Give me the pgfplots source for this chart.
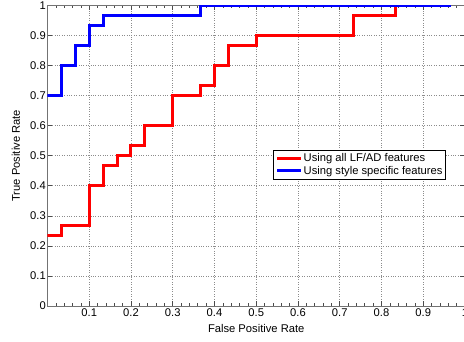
\documentclass[border=0pt]{standalone}
\usepackage{fontspec}
\setmainfont{Liberation Sans}
\usepackage{pgfplots}
\pgfplotsset{compat=1.18}
\begin{document}
\begin{tikzpicture}
\begin{axis}[
  name=ax,
  scale only axis,
  width=417.5pt, height=300.8pt,
  xmin=0, xmax=1, ymin=0, ymax=1,
  font=\fontsize{11.2}{13}\selectfont,
  /pgf/number format/assume math mode=true,
  xtick={0,0.1,0.2,0.3,0.4,0.5,0.6,0.7,0.8,0.9,1},
  xticklabels={,0.1,0.2,0.3,0.4,0.5,0.6,0.7,0.8,0.9,1},
  ytick={0,0.1,0.2,0.3,0.4,0.5,0.6,0.7,0.8,0.9,1},
  yticklabels={0,0.1,0.2,0.3,0.4,0.5,0.6,0.7,0.8,0.9,1},
  minor x tick num=4,
  tick align=inside,
  major tick length=5pt, minor tick length=3pt,
  tick style={black!70, line width=0.6pt},
  axis line style={black!55, line width=1.2pt},
  grid=major,
  major grid style={black!45, dotted, line width=0.6pt},
  yticklabel style={inner sep=1.5pt},
  xticklabel style={inner sep=2pt},
  xlabel={False Positive Rate},
  ylabel={True Positive Rate},
  xlabel style={at={(axis description cs:0.5,-0.073)}, anchor=center},
  ylabel style={at={(axis description cs:-0.0755,0.5)}, anchor=center},
  legend style={at={(rel axis cs:0.5407,0.519)}, anchor=north west,
    draw=black, line width=0.6pt, fill=white, inner xsep=2pt, inner ysep=2pt,
    nodes={inner sep=1.2pt},
    font=\fontsize{11.2}{13}\selectfont, row sep=0.5pt},
  legend cell align=left,
  legend image code/.code={\draw[#1, line width=3pt] (0pt,0pt) -- (24pt,0pt);},
]
\addplot[const plot, red, line width=3pt] coordinates {
(0,0.2333) (0.0333,0.2667) (0.1,0.4) (0.1333,0.4667) (0.1667,0.5) (0.2,0.5333)
(0.2333,0.6) (0.3,0.7) (0.3667,0.7333) (0.4,0.8) (0.4333,0.8667) (0.5,0.9)
(0.7333,0.9667) (0.8333,1) (0.9667,1)};
\addlegendentry{Using all LF/AD features}
\addplot[const plot, blue, line width=3pt] coordinates {
(0,0.7) (0.0333,0.8) (0.0667,0.8667) (0.1,0.9333) (0.1333,0.9667) (0.3667,1) (0.9667,1)};
\addlegendentry{Using style specific features}
\end{axis}
\pgfresetboundingbox
\useasboundingbox ([xshift=-47.5pt,yshift=-34.9pt]ax.south west) rectangle ([xshift=-1pt,yshift=5.3pt]ax.north east);
\end{tikzpicture}
\end{document}
